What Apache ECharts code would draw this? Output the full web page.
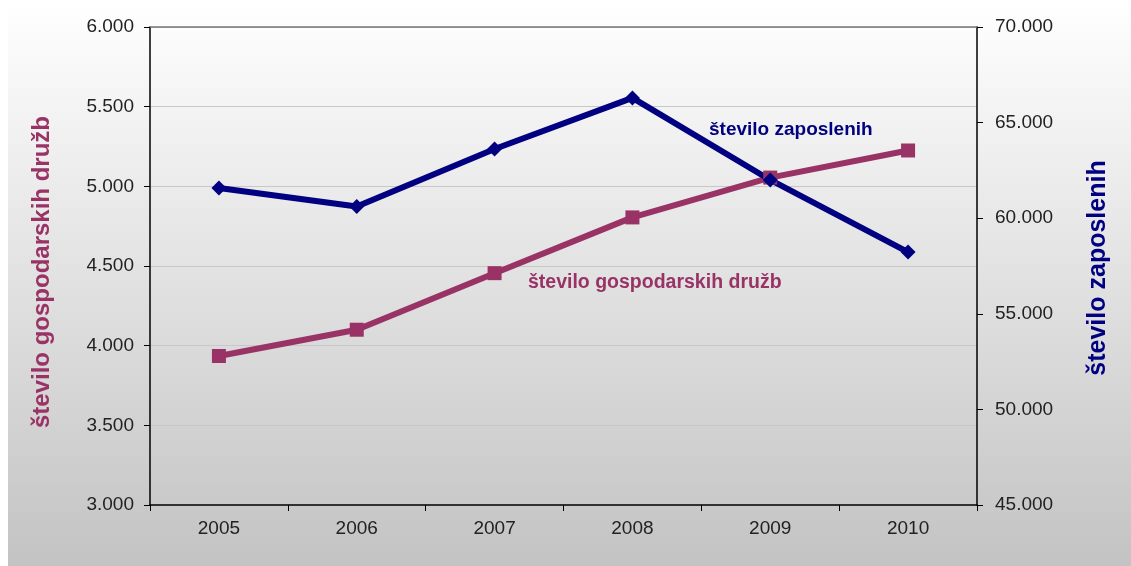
<!DOCTYPE html>
<html>
<head>
<meta charset="utf-8">
<script src="https://cdn.jsdelivr.net/npm/echarts@6/dist/echarts.min.js"></script>
<style>html,body{margin:0;padding:0;background:#fff}#c{width:1131px;height:566px}</style>
</head>
<body>
<div id="c"></div>
<script>
var categories = ['2005','2006','2007','2008','2009','2010'];
var druzbe = [3935, 4100, 4455, 4805, 5055, 5225];
var zaposleni = [61580, 60610, 63620, 66290, 62000, 58230];
var leftTicks = {min: 3000, max: 6000, step: 500};
var rightTicks = {min: 45000, max: 70000, step: 5000};
var nameDruzbe = 'število gospodarskih družb';
var nameZaposleni = 'število zaposlenih';

function fmt(v){ return String(v).replace(/\B(?=(\d{3})+(?!\d))/g, '.'); }

var chart = echarts.init(document.getElementById('c'), null, {renderer:'canvas'});
var font = 'Liberation Sans, Arial, sans-serif';
chart.setOption({
  animation: false,
  textStyle: {fontFamily: font},
  graphic: [
    {type:'rect', z:-10, silent:true, shape:{x:8,y:0,width:1123,height:566},
     style:{fill:{type:'linear',x:0,y:0,x2:0,y2:1,colorStops:[{offset:0,color:'#ffffff'},{offset:1,color:'#c3c3c3'}]}}},
    {type:'text', x:42, y:272, rotation:Math.PI/2, silent:true,
     style:{text:nameDruzbe, fill:'#993366', font:'bold 24px '+font, align:'center', verticalAlign:'middle'}},
    {type:'text', x:1098, y:268, rotation:Math.PI/2, silent:true,
     style:{text:nameZaposleni, fill:'#000080', font:'bold 25px '+font, align:'center', verticalAlign:'middle'}},
    {type:'text', x:709, y:130, silent:true,
     style:{text:nameZaposleni, fill:'#000080', font:'bold 19px '+font, verticalAlign:'middle'}},
    {type:'text', x:528, y:283, silent:true,
     style:{text:nameDruzbe, fill:'#993366', font:'bold 19.5px '+font, verticalAlign:'middle'}}
  ],
  grid: {left:150, right:154, top:27, bottom:61, containLabel:false},
  xAxis: [
    {type:'category', data:categories, boundaryGap:true,
     axisLine:{lineStyle:{color:'#000', width:1.5}},
     axisTick:{show:true, length:6, lineStyle:{color:'#000'}},
     axisLabel:{color:'#222', fontSize:19, margin:14, fontFamily:font}},
    {type:'category', data:categories, position:'top',
     axisLine:{show:true, lineStyle:{color:'#777', width:1.5}},
     axisTick:{show:false}, axisLabel:{show:false}}
  ],
  yAxis: [
    {type:'value', min:leftTicks.min, max:leftTicks.max, interval:leftTicks.step, position:'left',
     axisLine:{show:true, lineStyle:{color:'#000', width:1.5}},
     axisTick:{show:true, length:6, lineStyle:{color:'#000'}},
     axisLabel:{color:'#222', fontSize:19, margin:16, formatter:fmt, fontFamily:font},
     splitLine:{show:true, lineStyle:{color:'#c8c8c8', width:1}}},
    {type:'value', min:rightTicks.min, max:rightTicks.max, interval:rightTicks.step, position:'right',
     axisLine:{show:true, lineStyle:{color:'#000', width:1.5}},
     axisTick:{show:true, length:6, lineStyle:{color:'#000'}},
     axisLabel:{color:'#222', fontSize:19, margin:18, formatter:fmt, fontFamily:font},
     splitLine:{show:false}}
  ],
  series: [
    {name:nameDruzbe, type:'line', yAxisIndex:0, data:druzbe,
     symbol:'rect', symbolSize:14, itemStyle:{color:'#993366'},
     lineStyle:{color:'#993366', width:6}},
    {name:nameZaposleni, type:'line', yAxisIndex:1, data:zaposleni,
     symbol:'diamond', symbolSize:15, itemStyle:{color:'#000080'},
     lineStyle:{color:'#000080', width:6}}
  ]
});
</script>
</body>
</html>
